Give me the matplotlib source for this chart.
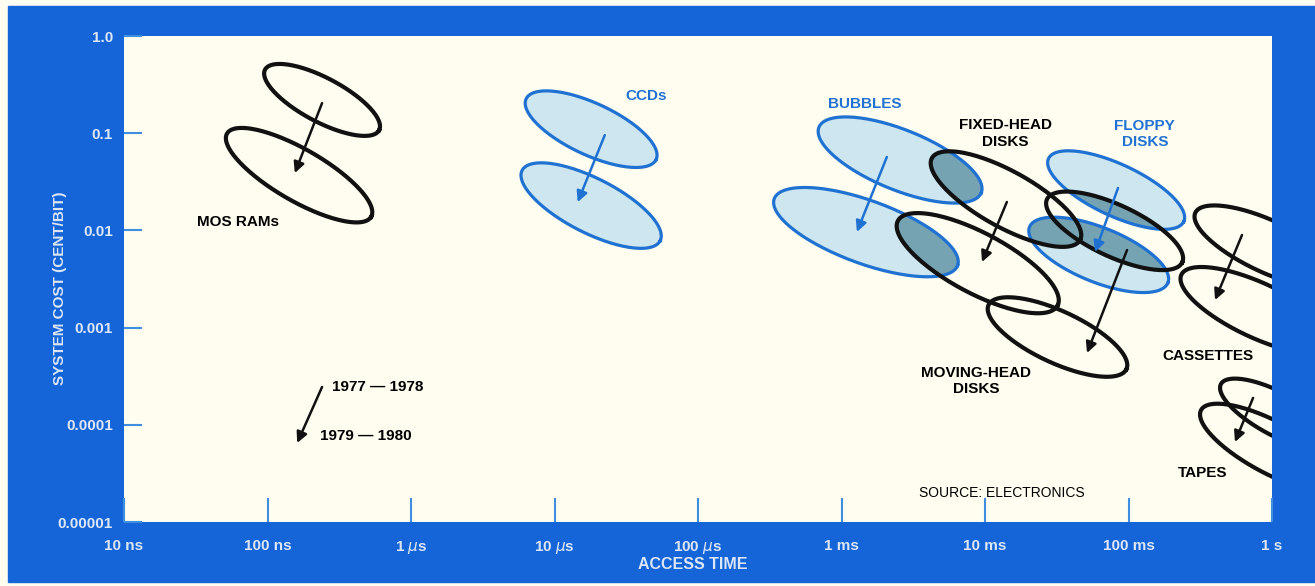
import numpy as np
import matplotlib
matplotlib.use("Agg")
import matplotlib.pyplot as plt
from matplotlib.patches import Polygon, Rectangle

plt.rcParams['font.family'] = ['Liberation Sans', 'DejaVu Sans']

# ellipses: center access time (s), center cost (cent/bit), semi-major, semi-minor (x decades), angle (deg)
black_names = ["mos_77", "mos_79", "fixed_77", "fixed_79", "moving_77", "moving_79",
               "cass_77", "cass_79", "tape_77", "tape_79"]
black_x = [2.4e-7, 1.66e-7, 0.014, 0.0089, 0.080, 0.032, 0.94, 0.80, 1.10, 1.0]
black_y = [0.22, 0.037, 0.021, 0.0046, 0.0099, 0.0008, 0.0068, 0.0015, 0.000128, 0.000058]
black_a = [0.45, 0.58, 0.59, 0.63, 0.52, 0.53, 0.56, 0.59, 0.45, 0.56]
black_b = [0.153, 0.18, 0.195, 0.21, 0.18, 0.18, 0.18, 0.19, 0.15, 0.18]
black_ang = [-28, -30, -29, -28, -25, -25, -25, -25, -28, -28]

blue_names = ["ccd_77", "ccd_79", "bub_77", "bub_79", "floppy_77", "floppy_79"]
blue_x = [1.8e-5, 1.8e-5, 2.56e-3, 1.48e-3, 0.082, 0.062]
blue_y = [0.11, 0.018, 0.053, 0.0096, 0.026, 0.0056]
blue_a = [0.50, 0.54, 0.61, 0.68, 0.52, 0.52]
blue_b = [0.18, 0.19, 0.21, 0.22, 0.18, 0.19]
blue_ang = [-25, -27, -22, -20, -25, -22]

# trend arrows (1977-78 -> 1979-80)
arrow_x0 = [2.4e-7, 2.24e-5, 2.07e-3, 0.0142, 0.0845, 0.0977, 0.618, 0.738]
arrow_y0 = [0.204, 0.0955, 0.0569, 0.0196, 0.0273, 0.00628, 0.00897, 0.000189]
arrow_x1 = [1.55e-7, 1.45e-5, 1.28e-3, 0.00953, 0.0585, 0.0514, 0.401, 0.552]
arrow_y1 = [0.0389, 0.0195, 0.00964, 0.00473, 0.0060, 0.000548, 0.00192, 0.0000665]
arrow_col = ["k", "b", "b", "k", "b", "k", "k", "k"]

xtick_vals = [1e-8, 1e-7, 1e-6, 1e-5, 1e-4, 1e-3, 1e-2, 1e-1, 1]
xtick_labels = ["10 ns", "100 ns", "1 $\\mu$s", "10 $\\mu$s", "100 $\\mu$s", "1 ms", "10 ms", "100 ms", "1 s"]
ytick_vals = [1e-5, 1e-4, 1e-3, 1e-2, 1e-1, 1]
ytick_labels = ["0.00001", "0.0001", "0.001", "0.01", "0.1", "1.0"]

BORDER = "#1565d8"
CREAM = "#fefdf0"
LINE_BLUE = "#1f72d2"
FILL_BLUE = "#cde6ef"
DARK_FILL = "#76a3b2"
TICK_TXT = "#dbe7f6"

fig = plt.figure(figsize=(13.15, 5.86), dpi=100, facecolor=CREAM)
fig.patches.append(Rectangle((8 / 1315, 4 / 586), 1307 / 1315, 576 / 586,
                             transform=fig.transFigure, color=BORDER, zorder=-10))
ax = fig.add_axes([124 / 1315, 1 - 522 / 586, 1148 / 1315, 486 / 586])
ax.set_facecolor(CREAM)
ax.set_xscale("log")
ax.set_yscale("log")
ax.set_xlim(1e-8, 1)
ax.set_ylim(1e-5, 1)
for s in ax.spines.values():
    s.set_visible(False)

# pixels per decade ratio (y vs x) so ellipse angles look right
r = (ax.bbox.height / 5) / (ax.bbox.width / 8)


def ellipse(cx, cy, a, b, ang):
    t = np.linspace(0, 2 * np.pi, 200)
    p = np.deg2rad(ang)
    u = a * np.cos(t) * np.cos(p) - b * np.sin(t) * np.sin(p)
    v = a * np.cos(t) * np.sin(p) + b * np.sin(t) * np.cos(p)
    return 10 ** (np.log10(cx) + u), 10 ** (np.log10(cy) + v / r)


blue_polys = []
for i in range(len(blue_names)):
    ex, ey = ellipse(blue_x[i], blue_y[i], blue_a[i], blue_b[i], blue_ang[i])
    ax.fill(ex, ey, color=FILL_BLUE, zorder=1, lw=0)
    blue_polys.append(np.column_stack([ex, ey]))

# darker where black ellipses overlap blue ones
for i in range(len(black_names)):
    ex, ey = ellipse(black_x[i], black_y[i], black_a[i], black_b[i], black_ang[i])
    for bp in blue_polys:
        clip = Polygon(bp, closed=True, transform=ax.transData)
        f = ax.fill(ex, ey, color=DARK_FILL, zorder=2, lw=0)[0]
        f.set_clip_path(clip)

for bp in blue_polys:
    ax.plot(bp[:, 0], bp[:, 1], color=LINE_BLUE, lw=2.3, zorder=3)

for i in range(len(black_names)):
    ex, ey = ellipse(black_x[i], black_y[i], black_a[i], black_b[i], black_ang[i])
    ax.plot(ex, ey, color="#111111", lw=3.0, zorder=4)

for i in range(len(arrow_x0)):
    c = LINE_BLUE if arrow_col[i] == "b" else "#111111"
    ax.annotate("", xy=(arrow_x1[i], arrow_y1[i]), xytext=(arrow_x0[i], arrow_y0[i]),
                arrowprops=dict(arrowstyle="-|>", color=c, lw=1.8, mutation_scale=16,
                                shrinkA=0, shrinkB=0), zorder=5)

# legend arrow
ax.annotate("", xy=(1.61e-7, 6.5e-5), xytext=(2.4e-7, 2.45e-4),
            arrowprops=dict(arrowstyle="-|>", color="#111111", lw=1.8, mutation_scale=16,
                            shrinkA=0, shrinkB=0), zorder=5)
ax.text(2.82e-7, 2.45e-4, "1977 \u2014 1978", fontsize=11, fontweight="bold", va="center", ha="left")
ax.text(2.32e-7, 7.6e-5, "1979 \u2014 1980", fontsize=11, fontweight="bold", va="center", ha="left")

lab = dict(fontsize=11, fontweight="bold", ha="center", va="center", linespacing=1.25)
ax.text(6.2e-8, 0.0122, "MOS RAMs", **lab)
ax.text(4.35e-5, 0.24, "CCDs", color=LINE_BLUE, **lab)
ax.text(1.46e-3, 0.20, "BUBBLES", color=LINE_BLUE, **lab)
ax.text(0.0138, 0.099, "FIXED-HEAD\nDISKS", **lab)
ax.text(0.130, 0.098, "FLOPPY\nDISKS", color=LINE_BLUE, **lab)
ax.text(0.00865, 0.000282, "MOVING-HEAD\nDISKS", **lab)
ax.text(0.358, 0.00051, "CASSETTES", **lab)
ax.text(0.33, 0.0000319, "TAPES", **lab)
ax.text(0.0131, 0.0000199, "SOURCE: ELECTRONICS", fontsize=10, ha="center", va="center")

ax.set_xticks(xtick_vals)
ax.set_xticklabels(xtick_labels)
ax.set_yticks(ytick_vals)
ax.set_yticklabels(ytick_labels)
ax.minorticks_off()
ax.tick_params(axis="x", direction="in", length=17, width=1.5, color="#3f8ee0",
               labelcolor=TICK_TXT, labelsize=11, pad=12)
ax.tick_params(axis="y", direction="in", length=13, width=1.5, color="#3f8ee0",
               labelcolor=TICK_TXT, labelsize=11, pad=8)
for t in ax.get_xticklabels() + ax.get_yticklabels():
    t.set_fontweight("bold")

ax.set_xlabel("ACCESS TIME", color=TICK_TXT, fontsize=11.5, fontweight="bold")
ax.set_ylabel("SYSTEM COST (CENT/BIT)", color=TICK_TXT, fontsize=11, fontweight="bold")
ax.xaxis.set_label_coords(0.495, -0.072)
ax.yaxis.set_label_coords(-0.0497, 0.481)

fig.savefig("out.png", dpi=100, facecolor=CREAM)
